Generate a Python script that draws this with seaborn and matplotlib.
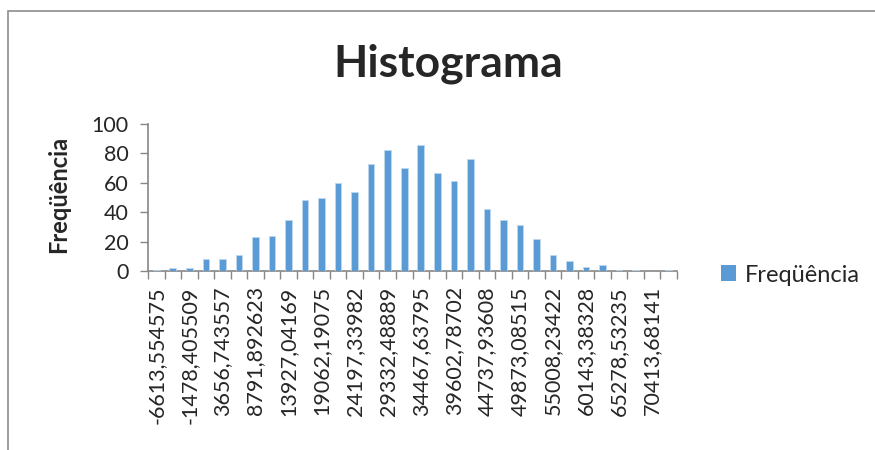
import matplotlib
matplotlib.use("Agg")
import matplotlib.pyplot as plt
from matplotlib.patches import Patch, Rectangle
import numpy as np
import pandas as pd
import seaborn as sns

# bin frequencies (32 bins)
freq = [1, 2, 2, 8, 8, 11, 23, 24, 35, 48, 50, 60, 54, 73, 82, 70,
        86, 67, 61, 76, 42, 35, 31, 22, 11, 7, 3, 4, 1, 1, 0, 1]

# labels shown on every other bin
bin_labels = ["-6613,554575", "-1478,405509", "3656,743557", "8791,892623",
              "13927,04169", "19062,19075", "24197,33982", "29332,48889",
              "34467,63795", "39602,78702", "44737,93608", "49873,08515",
              "55008,23422", "60143,38328", "65278,53235", "70413,68141"]

bar_color = "#5B9BD5"
axis_color = "#868686"

data = pd.DataFrame({"bin": np.arange(len(freq)), "freq": freq})

sns.set_style("white")
plt.rcParams["font.family"] = ["Lato", "DejaVu Sans"]

fig = plt.figure(figsize=(8.75, 4.5), dpi=100)
ax = fig.add_axes([148 / 875, 1 - 271 / 450, (677 - 148) / 875, (271 - 124) / 450])

sns.barplot(data=data, x="bin", y="freq", color=bar_color, saturation=1,
            width=0.4, edgecolor="#BDD7EE", linewidth=0.6, ax=ax, zorder=3)

ax.set_xlim(-0.5, len(freq) - 0.5)
ax.set_ylim(0, 100)
ax.set_yticks(range(0, 101, 20))
ax.tick_params(axis="y", labelsize=15.5, length=6, color=axis_color,
               direction="out", left=True, pad=8, width=1)

# Excel style: ticks between categories, labels on every other bin
ax.set_xticks(np.arange(0, len(freq), 2))
ax.set_xticklabels(bin_labels, rotation=90, fontsize=15.5)
ax.set_xticks(np.arange(-0.5, len(freq)), minor=True)
ax.tick_params(axis="x", which="major", length=0, pad=11)
ax.tick_params(axis="x", which="minor", length=6, color=axis_color,
               direction="out", bottom=True, width=1)

for side in ["top", "right"]:
    ax.spines[side].set_visible(False)
for side in ["left", "bottom"]:
    ax.spines[side].set_color(axis_color)
    ax.spines[side].set_linewidth(1.2)
    ax.spines[side].set_zorder(2)

ax.set_xlabel("")
ax.set_ylabel("Freqüência", fontsize=17, fontweight="bold")
ax.yaxis.set_label_coords((70 - 148) / 529, 0.524)

fig.text(448 / 875, 1 - 64 / 450, "Histograma", ha="center", va="center",
         fontsize=32, fontweight="bold")

handle = Patch(facecolor=bar_color, edgecolor="none", label="Freqüência")
fig.legend(handles=[handle], loc="center left",
           bbox_to_anchor=(709 / 875, 1 - 275 / 450), frameon=False,
           fontsize=17, handlelength=0.65, handleheight=0.65,
           handletextpad=0.35, borderpad=0)

# chart area border
fig.patches.append(Rectangle((8 / 875, -0.1), 1.1, 1.1 - 11 / 450,
                             transform=fig.transFigure, fill=False,
                             edgecolor="#8C8C8C", linewidth=1.2))

fig.savefig("out.png", dpi=100)
